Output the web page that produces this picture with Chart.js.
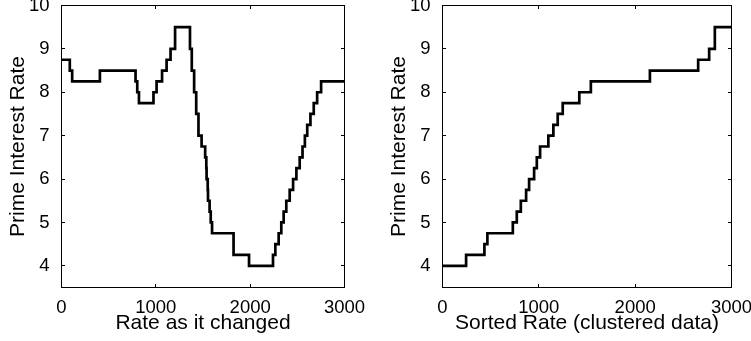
<!DOCTYPE html>
<html><head><meta charset="utf-8">
<script src="https://cdn.jsdelivr.net/npm/chart.js@4"></script>
<style>
html,body{margin:0;padding:0;background:#fff;}
#wrap{position:relative;width:751px;height:341px;overflow:hidden;background:#fff;}
canvas{position:absolute;left:0;top:0;}
</style></head><body>
<div id="wrap"><canvas id="c1" width="751" height="341"></canvas><canvas id="c2" width="751" height="341"></canvas></div>
<script>
// ---- data ----
const xTicks = [0, 1000, 2000, 3000];
const yTicks = [4, 5, 6, 7, 8, 9, 10];
const lastIndex = 3000;

// left panel: rate as it changed (index where each rate starts, and the rate)
const changedStart = [0, 88, 113, 407, 785, 803, 821, 975, 1008, 1066, 1114, 1156, 1204,
  1362, 1381, 1406, 1428, 1452, 1485, 1523, 1535, 1538, 1550, 1553, 1570, 1582, 1596,
  1824, 1988, 2242, 2267, 2302, 2330, 2355, 2383, 2419, 2455, 2490, 2525, 2555, 2580,
  2605, 2639, 2674, 2710, 2752];
const changedRate = [8.75, 8.5, 8.25, 8.5, 8.25, 8.0, 7.75, 8.0, 8.25, 8.5, 8.75, 9.0, 9.5,
  9.0, 8.5, 8.0, 7.5, 7.0, 6.75, 6.5, 6.25, 6.0, 5.75, 5.5, 5.25, 5.0, 4.75,
  4.25, 4.0, 4.25, 4.5, 4.75, 5.0, 5.25, 5.5, 5.75, 6.0, 6.25, 6.5, 6.75, 7.0,
  7.25, 7.5, 7.75, 8.0, 8.25];

// right panel: sorted rate
const sortedStart = [0, 245, 435, 466, 730, 771, 813, 868, 899, 951, 979, 1013, 1099,
  1151, 1196, 1248, 1420, 1540, 2153, 2654, 2768, 2827];
const sortedRate = [4.0, 4.25, 4.5, 4.75, 5.0, 5.25, 5.5, 5.75, 6.0, 6.25, 6.5, 6.75, 7.0,
  7.25, 7.5, 7.75, 8.0, 8.25, 8.5, 8.75, 9.0, 9.5];

const yTitle = 'Prime Interest Rate';
const xTitleLeft = 'Rate as it changed';
const xTitleRight = 'Sorted Rate (clustered data)';

// ---- chart setup ----
Chart.defaults.font.family = '"Liberation Sans", Arial, Helvetica, sans-serif';
Chart.defaults.color = '#000';

function toPoints(starts, rates) {
  const pts = starts.map((s, i) => ({x: s, y: rates[i]}));
  pts.push({x: lastIndex, y: rates[rates.length - 1]});
  return pts;
}

const TL = 3.5;
const boxTicks = {
  id: 'boxTicks',
  afterDraw(chart) {
    const {ctx, chartArea: a, scales: {x, y}} = chart;
    ctx.save();
    ctx.strokeStyle = '#000';
    ctx.lineWidth = 1;
    ctx.beginPath();
    x.ticks.forEach(t => {
      const p = Math.floor(x.getPixelForValue(t.value)) + 0.5;
      ctx.moveTo(p, a.bottom); ctx.lineTo(p, a.bottom - TL);
      ctx.moveTo(p, a.top); ctx.lineTo(p, a.top + TL);
    });
    y.ticks.forEach(t => {
      const p = Math.floor(y.getPixelForValue(t.value)) + 0.5;
      ctx.moveTo(a.left, p); ctx.lineTo(a.left + TL, p);
      ctx.moveTo(a.right, p); ctx.lineTo(a.right - TL, p);
    });
    ctx.stroke();
    ctx.strokeRect(a.left, a.top, a.right - a.left, a.bottom - a.top);
    ctx.restore();
  }
};

function makeChart(id, starts, rates, xTitle, padLeft, padRight) {
  return new Chart(document.getElementById(id), {
    type: 'line',
    data: {
      datasets: [{
        data: toPoints(starts, rates),
        stepped: true,
        borderColor: '#000',
        borderWidth: 2.7,
        pointRadius: 0,
        fill: false,
        borderJoinStyle: 'miter',
        borderCapStyle: 'butt'
      }]
    },
    options: {
      responsive: false,
      animation: false,
      devicePixelRatio: 1,
      layout: {padding: {left: padLeft, right: padRight, top: 5.5, bottom: 0}},
      plugins: {legend: {display: false}, tooltip: {enabled: false}},
      scales: {
        x: {
          type: 'linear', min: 0, max: 3000,
          grid: {display: false}, border: {display: false},
          afterBuildTicks: s => { s.ticks = xTicks.map(v => ({value: v})); },
          afterFit: s => { s.height = 53.5; s.paddingLeft = 0; s.paddingRight = 0; },
          ticks: {font: {size: 18.5}, padding: 1.5, maxRotation: 0, autoSkip: false,
                  callback: v => String(v)},
          title: {display: true, text: xTitle, font: {size: 21}, padding: {top: 0, bottom: 5}}
        },
        y: {
          type: 'linear', min: 3.5, max: 10,
          grid: {display: false}, border: {display: false},
          afterBuildTicks: s => { s.ticks = yTicks.map(v => ({value: v})); },
          afterFit: s => { s.width = 61.5; s.paddingTop = 0; s.paddingBottom = 0; },
          ticks: {font: {size: 18.5}, padding: 4, autoSkip: false, callback: v => String(v)},
          title: {display: true, text: yTitle, font: {size: 21}, padding: {top: 5.5, bottom: 0}}
        }
      }
    },
    plugins: [boxTicks]
  });
}

makeChart('c1', changedStart, changedRate, xTitleLeft, 0, 406.5);
makeChart('c2', sortedStart, sortedRate, xTitleRight, 381, 19.5);
</script>
</body></html>
